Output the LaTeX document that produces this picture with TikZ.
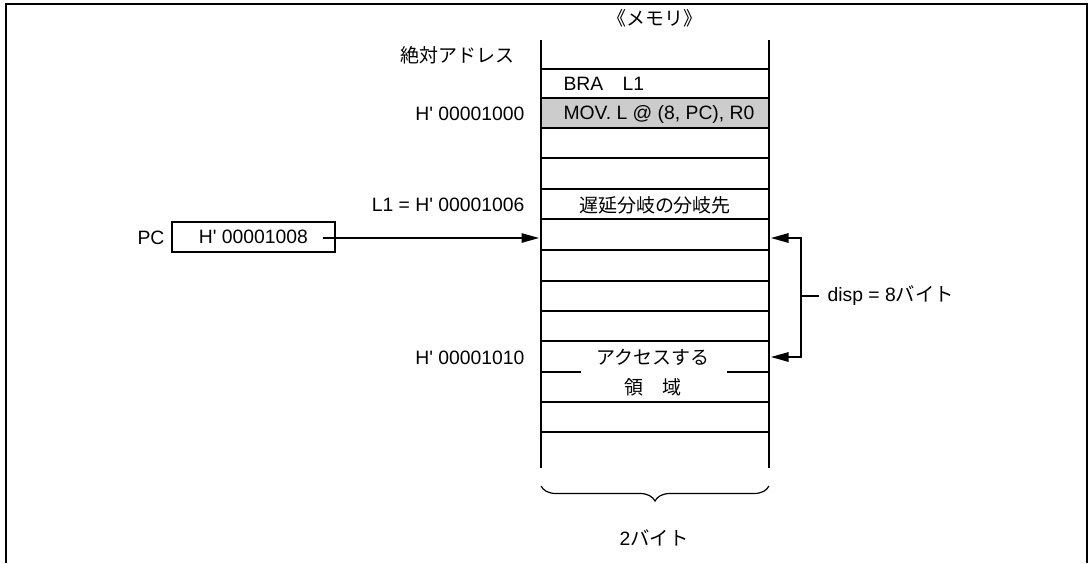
\documentclass[tikz,border=0pt]{standalone}
\usepackage{fontspec}
\setmainfont{Liberation Sans}
\newfontfamily\jpfont{Noto Sans CJK JP}
\usetikzlibrary{arrows.meta}
\usetikzlibrary{decorations.pathreplacing}
\newcommand{\ap}{\textquotesingle}

\begin{document}
\begin{tikzpicture}[x=0.2mm,y=-0.2mm,line width=0.24mm,inner sep=0pt,
  font=\fontsize{11}{13}\selectfont,
  jp/.style={font=\fontsize{10.8}{13}\selectfont\jpfont},
  tri/.style={-{Triangle[length=3.5mm,width=1.9mm]}},
  dbl/.style={{Triangle[length=3.5mm,width=1.9mm]}-{Triangle[length=3.5mm,width=1.9mm]}}]
\useasboundingbox (0,0) rectangle (1089,563);

%frame
\draw[line width=0.4mm] (5.7,563) -- (5.7,4.3) -- (1087,4.3) -- (1087,563);

%memory column
\fill[black!20] (541,98) rectangle (769,128);
\draw (541,40) -- (541,468);
\draw (769,40) -- (769,468);

%rows
\draw (541,69) -- (769,69);
\draw (541,98) -- (769,98);
\draw (541,128) -- (769,128);
\draw (541,158) -- (769,158);
\draw (541,189) -- (769,189);
\draw (541,219) -- (769,219);
\draw (541,250) -- (769,250);
\draw (541,281) -- (769,281);
\draw (541,311) -- (769,311);
\draw (541,341) -- (769,341);
\draw (541,372) -- (581,372);
\draw (727,372) -- (769,372);
\draw (541,402) -- (769,402);
\draw (541,432) -- (769,432);

%texts in the column
\node[jp] (memtitle) at (655,18) {《メモリ》};
\node[anchor=west] (bra) at (563,84) {BRA\quad L1};
\node[anchor=west] (mov) at (563,114) {MOV. L @ (8, PC), R0};
\node[jp] (target) at (655,205) {遅延分岐の分岐先};
\node[jp] (access) at (653,357) {アクセスする};
\node[jp] (area) at (653,387) {領　域};

%addresses
\node[jp,anchor=east] (absaddr) at (515,55) {絶対アドレス};
\node[anchor=east] (addr1000) at (525,114) {H\ap{} 00001000};
\node[anchor=east] (addr1006) at (525,205) {L1 = H\ap{} 00001006};
\node[anchor=east] (addr1010) at (525,358) {H\ap{} 00001010};

%PC
\node[draw,minimum width=32.6mm,minimum height=6mm] (pcbox) at (253.5,237) {H\ap{} 00001008};
\node[anchor=east] (pclabel) at (165,238) {PC};
\coordinate (pcout) at (323,238);
\coordinate (entry) at (539,238);
\draw[tri] (pcout) -- (entry);

%displacement
\coordinate (toptip) at (771,238);
\coordinate (bottip) at (771,357);
\coordinate (disptick) at (819,296);
\draw[dbl] (toptip) -- ++(30,0) |- (bottip);
\draw (disptick) -- ++(-18,0);
\node[anchor=west] (disp) at (827,296) {disp = 8{\jpfont バイト}};

%width
\draw[decorate,decoration={brace,mirror,amplitude=3mm}] (541,486) -- (769,486);
\node (bytes) at (654,538) {2{\jpfont バイト}};

\end{tikzpicture}
\end{document}
